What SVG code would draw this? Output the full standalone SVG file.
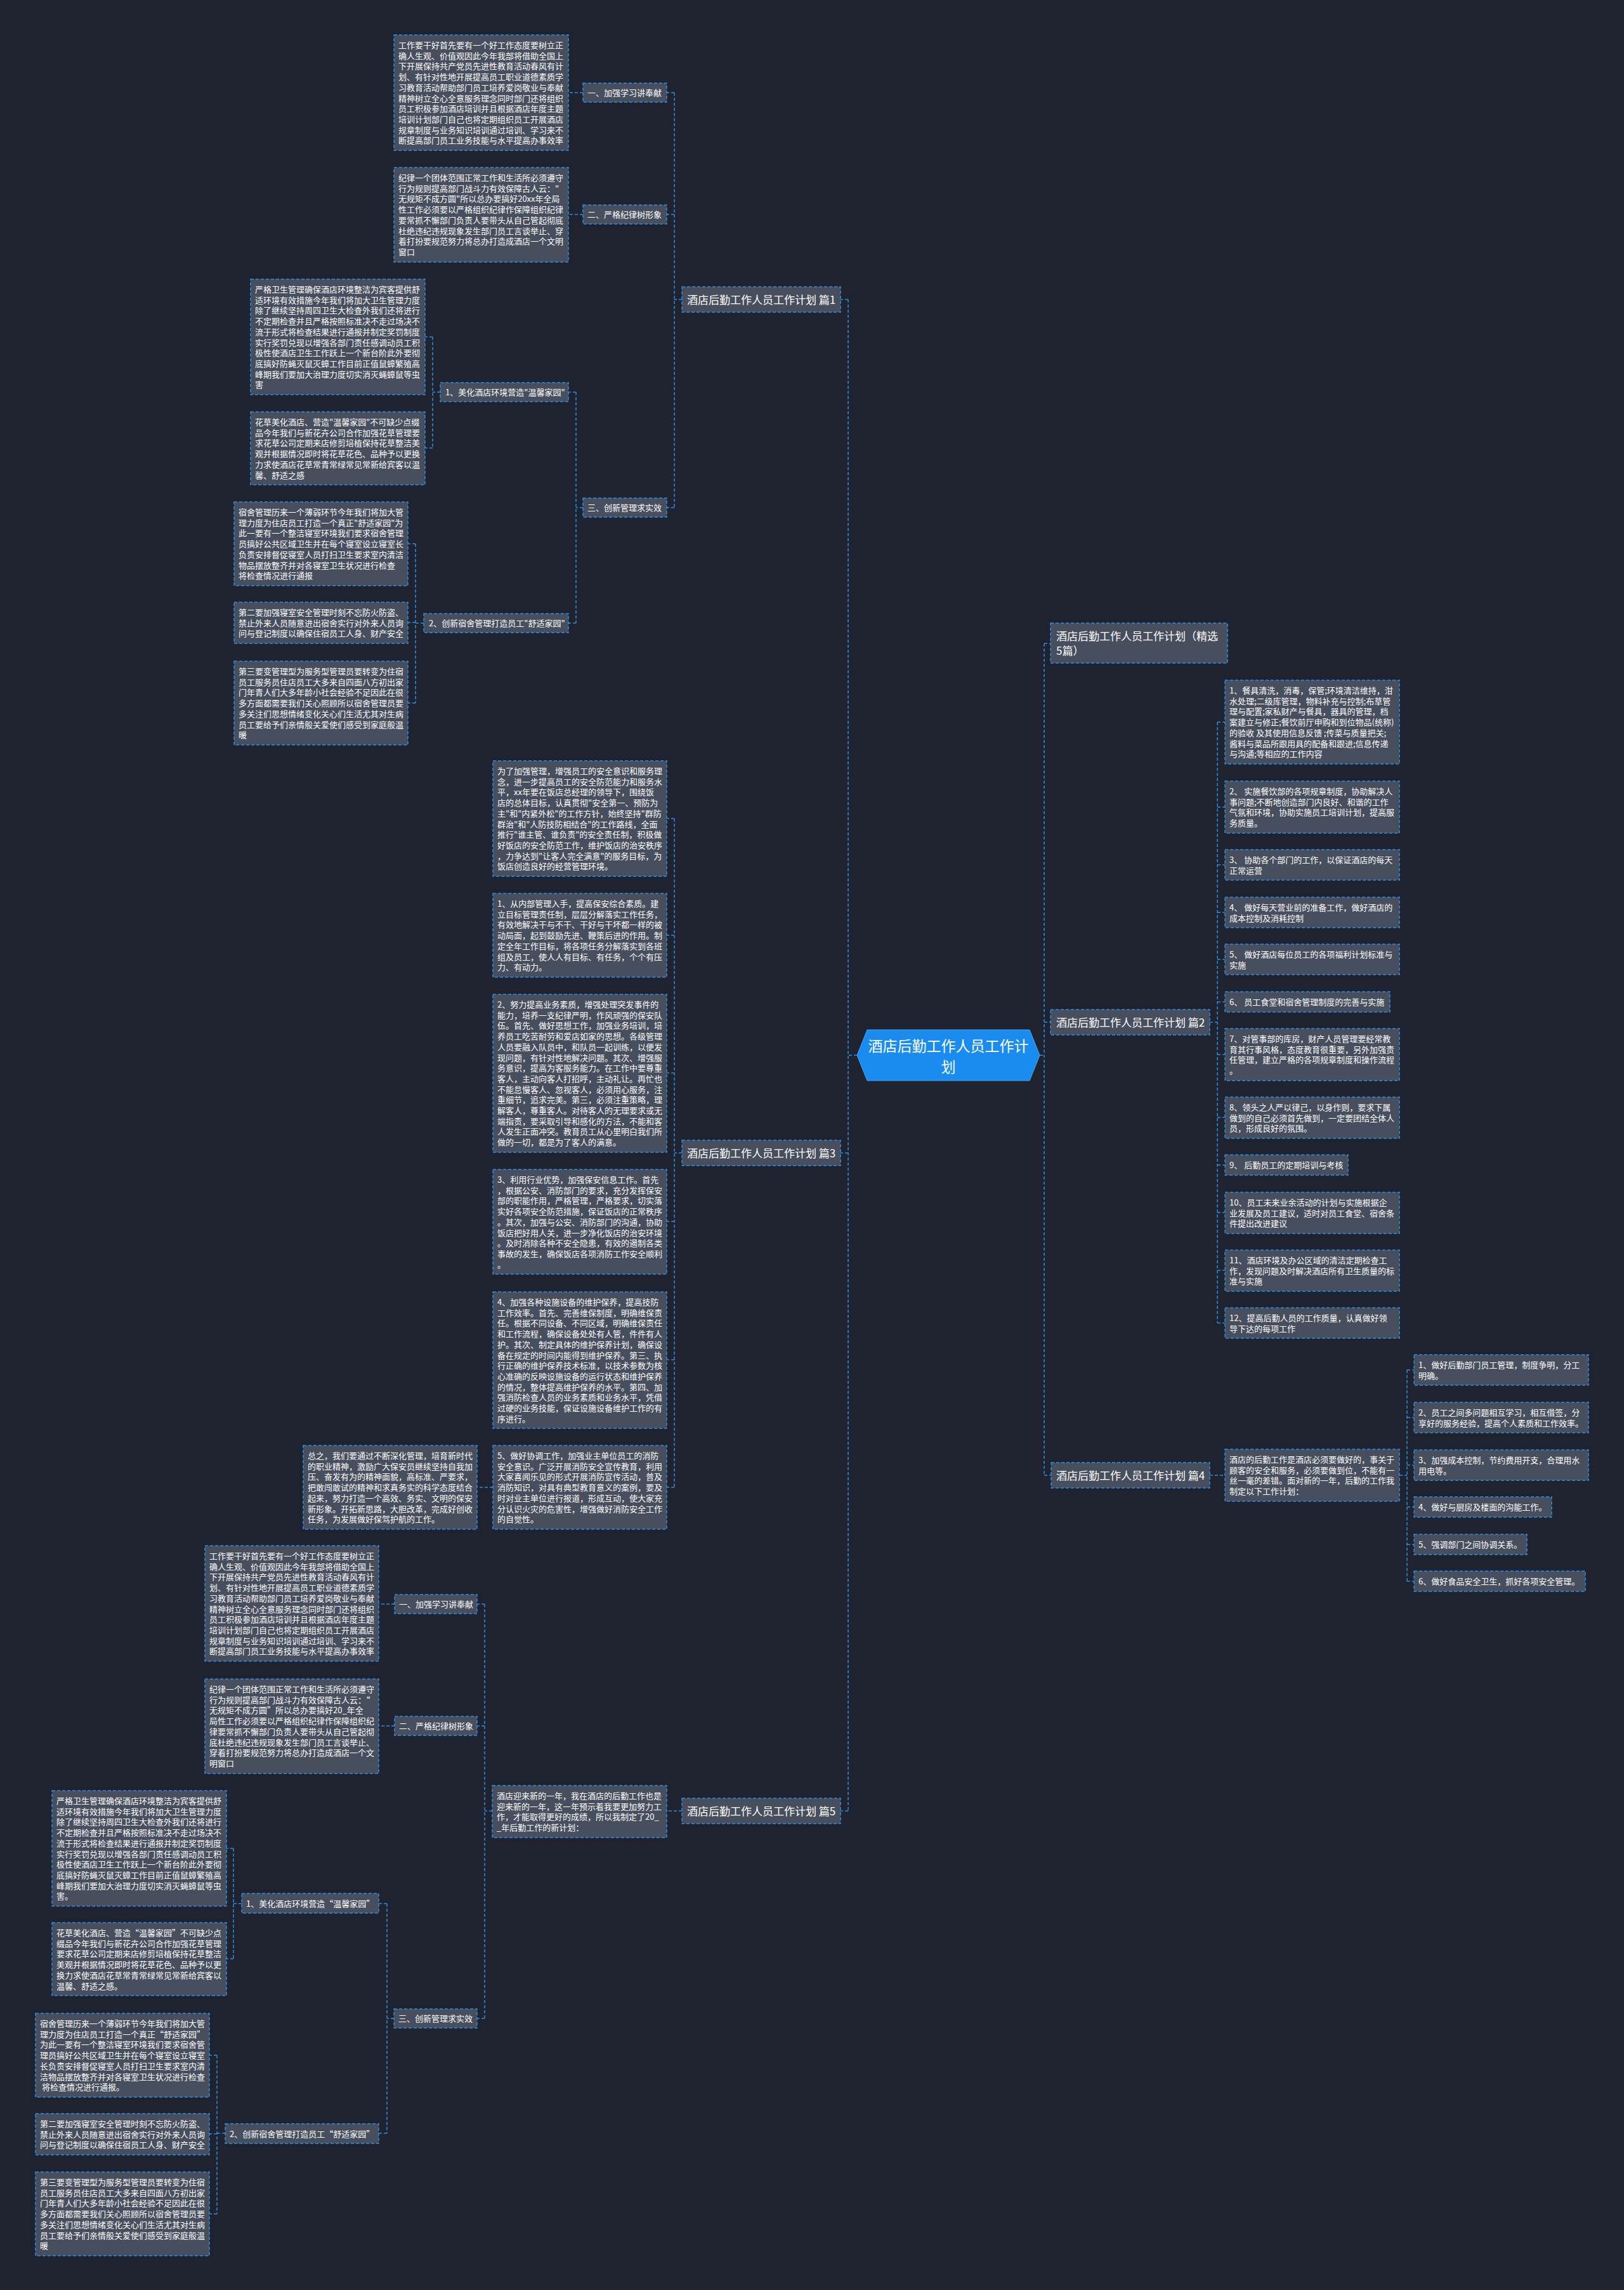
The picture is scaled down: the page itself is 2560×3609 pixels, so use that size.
<svg xmlns="http://www.w3.org/2000/svg" width="2560" height="3609" viewBox="0 0 2560 3609">
<style>
.n{fill:#474e5d;stroke:#2d8ce0;stroke-width:1.5;stroke-dasharray:5 3}
.t{fill:#ffffff;font-family:"Noto Sans CJK SC","Microsoft YaHei",sans-serif;font-size:13px}
.b{font-size:17px}
.rt{font-size:23px}
.c{fill:none;stroke:#2d8ce0;stroke-width:1.5;stroke-dasharray:5 3}
</style>
<rect width="2560" height="3609" fill="#1f232f"/>
<g id="connectors" class="c">
<path d="M1351 1663H1337M1337 472V2854M1337 472H1325M1337 1817H1325M1337 2854H1325"/>
<path d="M1639 1663H1646M1646 1014V2325M1646 1014H1656M1646 1611H1656M1646 2325H1657"/>
<path d="M1075 472H1063M1063 146V800M1063 146H1051M1063 338H1051M1063 800H1051M919 146H896M919 338H896"/>
<path d="M919 800H908M908 618V982M908 618H896M908 982H896"/>
<path d="M694 618H682M682 531V706M682 531H670M682 706H670"/>
<path d="M668 982H655M655 857V1108M655 857H643M655 981H643M655 1108H643"/>
<path d="M1075 1817H1063M1063 1290V2344M1063 1290H1051M1063 1474H1051M1063 1691H1051M1063 1925H1051M1063 2143H1051M1063 2344H1051M777 2344H752"/>
<path d="M1075 2854H1051M776 2854H764M764 2528V3181M764 2528H752M764 2720H752M764 3181H752M622 2528H597M622 2720H597"/>
<path d="M621 3181H610M610 3000V3362M610 3000H597M610 3362H597"/>
<path d="M381 3000H368M368 2913V3087M368 2913H357M368 3087H357"/>
<path d="M355 3362H342M342 3239V3489M342 3239H330M342 3363H330M342 3489H330"/>
<path d="M1907 1611H1919M1919 1138V2085M1919 1138H1931M1919 1272H1931M1919 1363H1931M1919 1438H1931M1919 1512H1931M1919 1579H1931M1919 1662H1931M1919 1761H1931M1919 1836H1931M1919 1911H1931M1919 2002H1931M1919 2085H1931"/>
<path d="M1907 2325H1931M2206 2325H2218M2218 2159V2492M2218 2159H2229M2218 2234H2229M2218 2309H2229M2218 2375H2229M2218 2434H2229M2218 2492H2229"/>
</g>

<g id="root"><polygon points="1351,1663 1367,1623 1623,1623 1639,1663 1623,1703 1367,1703" fill="#1a8cf0" stroke="#4aa6f5" stroke-width="1"/><text class="t rt" text-anchor="middle"><tspan x="1495" y="1657">酒店后勤工作人员工作计</tspan><tspan x="1495" y="1690">划</tspan></text></g>

<g id="n-jx"><rect class="n" x="1656" y="982" width="279" height="63"/><text class="t b"><tspan x="1665" y="1009">酒店后勤工作人员工作计划（精选</tspan><tspan x="1665" y="1031.5">5篇）</tspan></text></g>
<g id="n-p2"><rect class="n" x="1656" y="1591" width="251" height="40"/><text class="t b" x="1665" y="1617.5">酒店后勤工作人员工作计划 篇2</text></g>
<g id="n-p4"><rect class="n" x="1657" y="2305" width="250" height="40"/><text class="t b" x="1665" y="2331.5">酒店后勤工作人员工作计划 篇4</text></g>
<g id="n-p1"><rect class="n" x="1075" y="452" width="250" height="40"/><text class="t b" x="1083" y="478.5">酒店后勤工作人员工作计划 篇1</text></g>
<g id="n-p3"><rect class="n" x="1075" y="1797" width="250" height="40"/><text class="t b" x="1083" y="1823.5">酒店后勤工作人员工作计划 篇3</text></g>
<g id="n-p5"><rect class="n" x="1075" y="2834" width="250" height="40"/><text class="t b" x="1083" y="2860.5">酒店后勤工作人员工作计划 篇5</text></g>

<g id="n-r1"><rect class="n" x="1931" y="1072" width="275" height="132"/><text class="t"><tspan x="1938" y="1093">1、餐具清洗，消毒，保管;环境清洁维持，泔</tspan><tspan x="1938" dy="16.7">水处理;二级库管理，物料补充与控制;布草管</tspan><tspan x="1938" dy="16.7">理与配置;家私财产与餐具，器具的管理，档</tspan><tspan x="1938" dy="16.7">案建立与修正;餐饮前厅申购和到位物品(统称)</tspan><tspan x="1938" dy="16.7">的验收 及其使用信息反馈 ;传菜与质量把关;</tspan><tspan x="1938" dy="16.7">酱料与菜品所跟用具的配备和跟进;信息传递</tspan><tspan x="1938" dy="16.7">与沟通;等相应的工作内容</tspan></text></g>
<g id="n-r2"><rect class="n" x="1931" y="1231" width="275" height="82"/><text class="t"><tspan x="1938" y="1252">2、 实施餐饮部的各项规章制度，协助解决人</tspan><tspan x="1938" dy="16.7">事问题;不断地创造部门内良好、和谐的工作</tspan><tspan x="1938" dy="16.7">气氛和环境，协助实施员工培训计划，提高服</tspan><tspan x="1938" dy="16.7">务质量。</tspan></text></g>
<g id="n-r3"><rect class="n" x="1931" y="1339" width="275" height="48"/><text class="t"><tspan x="1938" y="1360">3、 协助各个部门的工作，以保证酒店的每天</tspan><tspan x="1938" dy="16.7">正常运营</tspan></text></g>
<g id="n-r4"><rect class="n" x="1931" y="1414" width="275" height="48"/><text class="t"><tspan x="1938" y="1435">4、 做好每天营业前的准备工作，做好酒店的</tspan><tspan x="1938" dy="16.7">成本控制及消耗控制</tspan></text></g>
<g id="n-r5"><rect class="n" x="1931" y="1488" width="275" height="48"/><text class="t"><tspan x="1938" y="1509">5、 做好酒店每位员工的各项福利计划标准与</tspan><tspan x="1938" dy="16.7">实施</tspan></text></g>
<g id="n-r6"><rect class="n" x="1931" y="1563" width="260" height="32"/><text class="t" x="1938" y="1584">6、 员工食堂和宿舍管理制度的完善与实施</text></g>
<g id="n-r7"><rect class="n" x="1931" y="1621" width="275" height="82"/><text class="t"><tspan x="1938" y="1642">7、对管事部的库房，财产人员管理要经常教</tspan><tspan x="1938" dy="16.7">育其行事风格，态度教育很重要，另外加强责</tspan><tspan x="1938" dy="16.7">任管理，建立严格的各项规章制度和操作流程</tspan><tspan x="1938" dy="16.7">。</tspan></text></g>
<g id="n-r8"><rect class="n" x="1931" y="1729" width="275" height="65"/><text class="t"><tspan x="1938" y="1750">8、领头之人严以律己，以身作则，要求下属</tspan><tspan x="1938" dy="16.7">做到的自己必须首先做到，一定要团结全体人</tspan><tspan x="1938" dy="16.7">员，形成良好的氛围。</tspan></text></g>
<g id="n-r9"><rect class="n" x="1931" y="1820" width="194" height="32"/><text class="t" x="1938" y="1841">9、 后勤员工的定期培训与考核</text></g>
<g id="n-r10"><rect class="n" x="1931" y="1879" width="275" height="65"/><text class="t"><tspan x="1938" y="1900">10、员工未来业余活动的计划与实施根据企</tspan><tspan x="1938" dy="16.7">业发展及员工建议，适时对员工食堂、宿舍条</tspan><tspan x="1938" dy="16.7">件提出改进建议</tspan></text></g>
<g id="n-r11"><rect class="n" x="1931" y="1970" width="275" height="65"/><text class="t"><tspan x="1938" y="1991">11、酒店环境及办公区域的清洁定期检查工</tspan><tspan x="1938" dy="16.7">作，发现问题及时解决酒店所有卫生质量的标</tspan><tspan x="1938" dy="16.7">准与实施</tspan></text></g>
<g id="n-r12"><rect class="n" x="1931" y="2061" width="275" height="48"/><text class="t"><tspan x="1938" y="2082">12、提高后勤人员的工作质量，认真做好领</tspan><tspan x="1938" dy="16.7">导下达的每项工作</tspan></text></g>

<g id="n-i4"><rect class="n" x="1931" y="2284" width="275" height="82"/><text class="t"><tspan x="1938" y="2305">酒店的后勤工作是酒店必须要做好的，事关于</tspan><tspan x="1938" dy="16.7">顾客的安全和服务，必须要做到位，不能有一</tspan><tspan x="1938" dy="16.7">丝一毫的差错。面对新的一年，后勤的工作我</tspan><tspan x="1938" dy="16.7">制定以下工作计划：</tspan></text></g>
<g id="n-s1"><rect class="n" x="2229" y="2135" width="275" height="48"/><text class="t"><tspan x="2236" y="2156">1、做好后勤部门员工管理，制度争明，分工</tspan><tspan x="2236" dy="16.7">明确。</tspan></text></g>
<g id="n-s2"><rect class="n" x="2229" y="2210" width="275" height="48"/><text class="t"><tspan x="2236" y="2231">2、员工之间多问题相互学习，相互借签，分</tspan><tspan x="2236" dy="16.7">享好的服务经验，提高个人素质和工作效率。</tspan></text></g>
<g id="n-s3"><rect class="n" x="2229" y="2285" width="275" height="48"/><text class="t"><tspan x="2236" y="2306">3、加强成本控制，节约费用开支，合理用水</tspan><tspan x="2236" dy="16.7">用电等。</tspan></text></g>
<g id="n-s4"><rect class="n" x="2229" y="2359" width="217" height="32"/><text class="t" x="2236" y="2380">4、做好与厨房及楼面的沟能工作。</text></g>
<g id="n-s5"><rect class="n" x="2229" y="2418" width="178" height="32"/><text class="t" x="2236" y="2439">5、强调部门之间协调关系。</text></g>
<g id="n-s6"><rect class="n" x="2229" y="2476" width="270" height="32"/><text class="t" x="2236" y="2497">6、做好食品安全卫生，抓好各项安全管理。</text></g>

<g id="n-l1"><rect class="n" x="919" y="131" width="132" height="30"/><text class="t" x="926" y="151">一、加强学习讲奉献</text></g>
<g id="n-a1"><rect class="n" x="621" y="55" width="275" height="182"/><text class="t"><tspan x="628" y="76">工作要干好首先要有一个好工作态度要树立正</tspan><tspan x="628" dy="16.7">确人生观、价值观因此今年我部将借助全国上</tspan><tspan x="628" dy="16.7">下开展保持共产党员先进性教育活动春风有计</tspan><tspan x="628" dy="16.7">划、有针对性地开展提高员工职业道德素质学</tspan><tspan x="628" dy="16.7">习教育活动帮助部门员工培养爱岗敬业与奉献</tspan><tspan x="628" dy="16.7">精神树立全心全意服务理念同时部门还将组织</tspan><tspan x="628" dy="16.7">员工积极参加酒店培训并且根据酒店年度主题</tspan><tspan x="628" dy="16.7">培训计划部门自己也将定期组织员工开展酒店</tspan><tspan x="628" dy="16.7">规章制度与业务知识培训通过培训、学习来不</tspan><tspan x="628" dy="16.7">断提高部门员工业务技能与水平提高办事效率</tspan></text></g>
<g id="n-l2"><rect class="n" x="919" y="323" width="132" height="30"/><text class="t" x="926" y="343">二、严格纪律树形象</text></g>
<g id="n-a2"><rect class="n" x="621" y="264" width="275" height="149"/><text class="t"><tspan x="628" y="285">纪律一个团体范围正常工作和生活所必须遵守</tspan><tspan x="628" dy="16.7">行为规则提高部门战斗力有效保障古人云："</tspan><tspan x="628" dy="16.7">无规矩不成方圆"所以总办要搞好20xx年全局</tspan><tspan x="628" dy="16.7">性工作必须要以严格组织纪律作保障组织纪律</tspan><tspan x="628" dy="16.7">要常抓不懈部门负责人要带头从自己管起彻底</tspan><tspan x="628" dy="16.7">杜绝违纪违规现象发生部门员工言谈举止、穿</tspan><tspan x="628" dy="16.7">着打扮要规范努力将总办打造成酒店一个文明</tspan><tspan x="628" dy="16.7">窗口</tspan></text></g>
<g id="n-l3"><rect class="n" x="919" y="785" width="132" height="30"/><text class="t" x="926" y="805">三、创新管理求实效</text></g>
<g id="n-lb1"><rect class="n" x="694" y="603" width="202" height="30"/><text class="t" x="702" y="623">1、美化酒店环境营造"温馨家园"</text></g>
<g id="n-b1"><rect class="n" x="395" y="440" width="275" height="182"/><text class="t"><tspan x="402" y="461">严格卫生管理确保酒店环境整洁为宾客提供舒</tspan><tspan x="402" dy="16.7">适环境有效措施今年我们将加大卫生管理力度</tspan><tspan x="402" dy="16.7">除了继续坚持周四卫生大检查外我们还将进行</tspan><tspan x="402" dy="16.7">不定期检查并且严格按照标准决不走过场决不</tspan><tspan x="402" dy="16.7">流于形式将检查结果进行通报并制定奖罚制度</tspan><tspan x="402" dy="16.7">实行奖罚兑现以增强各部门责任感调动员工积</tspan><tspan x="402" dy="16.7">极性使酒店卫生工作跃上一个新台阶此外要彻</tspan><tspan x="402" dy="16.7">底搞好防蝇灭鼠灭蟑工作目前正值鼠蟑繁殖高</tspan><tspan x="402" dy="16.7">峰期我们要加大治理力度切实消灭蝇蟑鼠等虫</tspan><tspan x="402" dy="16.7">害</tspan></text></g>
<g id="n-b2"><rect class="n" x="395" y="649" width="275" height="115"/><text class="t"><tspan x="402" y="670">花草美化酒店、营造"温馨家园"不可缺少点缀</tspan><tspan x="402" dy="16.7">品今年我们与新花卉公司合作加强花草管理要</tspan><tspan x="402" dy="16.7">求花草公司定期来店修剪培植保持花草整洁美</tspan><tspan x="402" dy="16.7">观并根据情况即时将花草花色、品种予以更换</tspan><tspan x="402" dy="16.7">力求使酒店花草常青常绿常见常新给宾客以温</tspan><tspan x="402" dy="16.7">馨、舒适之感</tspan></text></g>
<g id="n-lb2"><rect class="n" x="668" y="967" width="228" height="30"/><text class="t" x="676" y="987">2、创新宿舍管理打造员工"舒适家园"</text></g>
<g id="n-c1"><rect class="n" x="369" y="791" width="274" height="132"/><text class="t"><tspan x="376" y="812">宿舍管理历来一个薄弱环节今年我们将加大管</tspan><tspan x="376" dy="16.7">理力度为住店员工打造一个真正"舒适家园"为</tspan><tspan x="376" dy="16.7">此一要有一个整洁寝室环境我们要求宿舍管理</tspan><tspan x="376" dy="16.7">员搞好公共区域卫生并在每个寝室设立寝室长</tspan><tspan x="376" dy="16.7">负责安排督促寝室人员打扫卫生要求室内清洁</tspan><tspan x="376" dy="16.7">物品摆放整齐并对各寝室卫生状况进行检查</tspan><tspan x="376" dy="16.7">将检查情况进行通报</tspan></text></g>
<g id="n-c2"><rect class="n" x="369" y="949" width="274" height="65"/><text class="t"><tspan x="376" y="970">第二要加强寝室安全管理时刻不忘防火防盗、</tspan><tspan x="376" dy="16.7">禁止外来人员随意进出宿舍实行对外来人员询</tspan><tspan x="376" dy="16.7">问与登记制度以确保住宿员工人身、财产安全</tspan></text></g>
<g id="n-c3"><rect class="n" x="369" y="1042" width="274" height="132"/><text class="t"><tspan x="376" y="1063">第三要变管理型为服务型管理员要转变为住宿</tspan><tspan x="376" dy="16.7">员工服务员住店员工大多来自四面八方初出家</tspan><tspan x="376" dy="16.7">门年青人们大多年龄小社会经验不足因此在很</tspan><tspan x="376" dy="16.7">多方面都需要我们关心照顾所以宿舍管理员要</tspan><tspan x="376" dy="16.7">多关注们思想情绪变化关心们生活尤其对生病</tspan><tspan x="376" dy="16.7">员工要给予们亲情般关爱使们感受到家庭般温</tspan><tspan x="376" dy="16.7">暖</tspan></text></g>

<g id="n-p3-0"><rect class="n" x="777" y="1199" width="274" height="182"/><text class="t"><tspan x="784" y="1220">为了加强管理，增强员工的安全意识和服务理</tspan><tspan x="784" dy="16.7">念，进一步提高员工的安全防范能力和服务水</tspan><tspan x="784" dy="16.7">平，xx年要在饭店总经理的领导下，围绕饭</tspan><tspan x="784" dy="16.7">店的总体目标，认真贯彻"安全第一、预防为</tspan><tspan x="784" dy="16.7">主"和"内紧外松"的工作方针，始终坚持"群防</tspan><tspan x="784" dy="16.7">群治"和"人防技防相结合"的工作路线，全面</tspan><tspan x="784" dy="16.7">推行"谁主管、谁负责"的安全责任制，积极做</tspan><tspan x="784" dy="16.7">好饭店的安全防范工作，维护饭店的治安秩序</tspan><tspan x="784" dy="16.7">，力争达到"让客人完全满意"的服务目标，为</tspan><tspan x="784" dy="16.7">饭店创造良好的经营管理环境。</tspan></text></g>
<g id="n-p3-1"><rect class="n" x="777" y="1408" width="274" height="132"/><text class="t"><tspan x="784" y="1429">1、从内部管理入手，提高保安综合素质。建</tspan><tspan x="784" dy="16.7">立目标管理责任制，层层分解落实工作任务，</tspan><tspan x="784" dy="16.7">有效地解决干与不干、干好与干坏都一样的被</tspan><tspan x="784" dy="16.7">动局面，起到鼓励先进、鞭策后进的作用。制</tspan><tspan x="784" dy="16.7">定全年工作目标，将各项任务分解落实到各班</tspan><tspan x="784" dy="16.7">组及员工，使人人有目标、有任务，个个有压</tspan><tspan x="784" dy="16.7">力、有动力。</tspan></text></g>
<g id="n-p3-2"><rect class="n" x="777" y="1567" width="274" height="249"/><text class="t"><tspan x="784" y="1588">2、努力提高业务素质，增强处理突发事件的</tspan><tspan x="784" dy="16.7">能力，培养一支纪律严明，作风顽强的保安队</tspan><tspan x="784" dy="16.7">伍。首先、做好思想工作，加强业务培训，培</tspan><tspan x="784" dy="16.7">养员工吃苦耐劳和爱店如家的思想。各级管理</tspan><tspan x="784" dy="16.7">人员要融入队员中，和队员一起训练，以便发</tspan><tspan x="784" dy="16.7">现问题，有针对性地解决问题。其次、增强服</tspan><tspan x="784" dy="16.7">务意识，提高为客服务能力。在工作中要尊重</tspan><tspan x="784" dy="16.7">客人，主动向客人打招呼，主动礼让。再忙也</tspan><tspan x="784" dy="16.7">不能怠慢客人、忽视客人，必须用心服务，注</tspan><tspan x="784" dy="16.7">重细节，追求完美。第三，必须注重策略，理</tspan><tspan x="784" dy="16.7">解客人，尊重客人。对待客人的无理要求或无</tspan><tspan x="784" dy="16.7">端指责，要采取引导和感化的方法，不能和客</tspan><tspan x="784" dy="16.7">人发生正面冲突。教育员工从心里明白我们所</tspan><tspan x="784" dy="16.7">做的一切，都是为了客人的满意。</tspan></text></g>
<g id="n-p3-3"><rect class="n" x="777" y="1843" width="274" height="165"/><text class="t"><tspan x="784" y="1864">3、利用行业优势，加强保安信息工作。首先</tspan><tspan x="784" dy="16.7">，根据公安、消防部门的要求，充分发挥保安</tspan><tspan x="784" dy="16.7">部的职能作用，严格管理，严格要求，切实落</tspan><tspan x="784" dy="16.7">实好各项安全防范措施，保证饭店的正常秩序</tspan><tspan x="784" dy="16.7">。其次，加强与公安、消防部门的沟通，协助</tspan><tspan x="784" dy="16.7">饭店把好用人关，进一步净化饭店的治安环境</tspan><tspan x="784" dy="16.7">。及时消除各种不安全隐患，有效的遏制各类</tspan><tspan x="784" dy="16.7">事故的发生，确保饭店各项消防工作安全顺利</tspan><tspan x="784" dy="16.7">。</tspan></text></g>
<g id="n-p3-4"><rect class="n" x="777" y="2036" width="274" height="215"/><text class="t"><tspan x="784" y="2057">4、加强各种设施设备的维护保养，提高技防</tspan><tspan x="784" dy="16.7">工作效率。首先、完善维保制度，明确维保责</tspan><tspan x="784" dy="16.7">任。根据不同设备、不同区域，明确维保责任</tspan><tspan x="784" dy="16.7">和工作流程，确保设备处处有人管，件件有人</tspan><tspan x="784" dy="16.7">护。其次、制定具体的维护保养计划，确保设</tspan><tspan x="784" dy="16.7">备在规定的时间内能得到维护保养。第三、执</tspan><tspan x="784" dy="16.7">行正确的维护保养技术标准，以技术参数为核</tspan><tspan x="784" dy="16.7">心准确的反映设施设备的运行状态和维护保养</tspan><tspan x="784" dy="16.7">的情况，整体提高维护保养的水平。第四、加</tspan><tspan x="784" dy="16.7">强消防检查人员的业务素质和业务水平，凭借</tspan><tspan x="784" dy="16.7">过硬的业务技能，保证设施设备维护工作的有</tspan><tspan x="784" dy="16.7">序进行。</tspan></text></g>
<g id="n-p3-5"><rect class="n" x="777" y="2278" width="274" height="132"/><text class="t"><tspan x="784" y="2299">5、做好协调工作，加强业主单位员工的消防</tspan><tspan x="784" dy="16.7">安全意识。广泛开展消防安全宣传教育，利用</tspan><tspan x="784" dy="16.7">大家喜闻乐见的形式开展消防宣传活动，普及</tspan><tspan x="784" dy="16.7">消防知识，对具有典型教育意义的案例，要及</tspan><tspan x="784" dy="16.7">时对业主单位进行报道，形成互动，使大家充</tspan><tspan x="784" dy="16.7">分认识火灾的危害性，增强做好消防安全工作</tspan><tspan x="784" dy="16.7">的自觉性。</tspan></text></g>
<g id="n-p3-6"><rect class="n" x="478" y="2278" width="274" height="132"/><text class="t"><tspan x="485" y="2299">总之，我们要通过不断深化管理，培育新时代</tspan><tspan x="485" dy="16.7">的职业精神，激励广大保安员继续坚持自我加</tspan><tspan x="485" dy="16.7">压、奋发有为的精神面貌，高标准、严要求，</tspan><tspan x="485" dy="16.7">把敢闯敢试的精神和求真务实的科学态度结合</tspan><tspan x="485" dy="16.7">起来，努力打造一个高效、务实、文明的保安</tspan><tspan x="485" dy="16.7">新形象。开拓新思路，大胆改革，完成好创收</tspan><tspan x="485" dy="16.7">任务，为发展做好保驾护航的工作。</tspan></text></g>

<g id="n-q0"><rect class="n" x="776" y="2814" width="275" height="82"/><text class="t"><tspan x="783" y="2835">酒店迎来新的一年，我在酒店的后勤工作也是</tspan><tspan x="783" dy="16.7">迎来新的一年，这一年预示着我要更加努力工</tspan><tspan x="783" dy="16.7">作，才能取得更好的成绩，所以我制定了20_</tspan><tspan x="783" dy="16.7">_年后勤工作的新计划：</tspan></text></g>
<g id="n-ql1"><rect class="n" x="622" y="2513" width="130" height="30"/><text class="t" x="629" y="2533">一、加强学习讲奉献</text></g>
<g id="n-q1"><rect class="n" x="323" y="2436" width="274" height="182"/><text class="t"><tspan x="330" y="2457">工作要干好首先要有一个好工作态度要树立正</tspan><tspan x="330" dy="16.7">确人生观、价值观因此今年我部将借助全国上</tspan><tspan x="330" dy="16.7">下开展保持共产党员先进性教育活动春风有计</tspan><tspan x="330" dy="16.7">划、有针对性地开展提高员工职业道德素质学</tspan><tspan x="330" dy="16.7">习教育活动帮助部门员工培养爱岗敬业与奉献</tspan><tspan x="330" dy="16.7">精神树立全心全意服务理念同时部门还将组织</tspan><tspan x="330" dy="16.7">员工积极参加酒店培训并且根据酒店年度主题</tspan><tspan x="330" dy="16.7">培训计划部门自己也将定期组织员工开展酒店</tspan><tspan x="330" dy="16.7">规章制度与业务知识培训通过培训、学习来不</tspan><tspan x="330" dy="16.7">断提高部门员工业务技能与水平提高办事效率</tspan></text></g>
<g id="n-ql2"><rect class="n" x="622" y="2705" width="130" height="30"/><text class="t" x="629" y="2725">二、严格纪律树形象</text></g>
<g id="n-q2"><rect class="n" x="323" y="2646" width="274" height="149"/><text class="t"><tspan x="330" y="2667">纪律一个团体范围正常工作和生活所必须遵守</tspan><tspan x="330" dy="16.7">行为规则提高部门战斗力有效保障古人云：“</tspan><tspan x="330" dy="16.7">无规矩不成方圆”所以总办要搞好20_年全</tspan><tspan x="330" dy="16.7">局性工作必须要以严格组织纪律作保障组织纪</tspan><tspan x="330" dy="16.7">律要常抓不懈部门负责人要带头从自己管起彻</tspan><tspan x="330" dy="16.7">底杜绝违纪违规现象发生部门员工言谈举止、</tspan><tspan x="330" dy="16.7">穿着打扮要规范努力将总办打造成酒店一个文</tspan><tspan x="330" dy="16.7">明窗口</tspan></text></g>
<g id="n-ql3"><rect class="n" x="621" y="3166" width="131" height="30"/><text class="t" x="628" y="3186">三、创新管理求实效</text></g>
<g id="n-qb1"><rect class="n" x="381" y="2984" width="216" height="31"/><text class="t" x="388" y="3005">1、美化酒店环境营造“温馨家园”</text></g>
<g id="n-q3"><rect class="n" x="82" y="2822" width="275" height="182"/><text class="t"><tspan x="89" y="2843">严格卫生管理确保酒店环境整洁为宾客提供舒</tspan><tspan x="89" dy="16.7">适环境有效措施今年我们将加大卫生管理力度</tspan><tspan x="89" dy="16.7">除了继续坚持周四卫生大检查外我们还将进行</tspan><tspan x="89" dy="16.7">不定期检查并且严格按照标准决不走过场决不</tspan><tspan x="89" dy="16.7">流于形式将检查结果进行通报并制定奖罚制度</tspan><tspan x="89" dy="16.7">实行奖罚兑现以增强各部门责任感调动员工积</tspan><tspan x="89" dy="16.7">极性使酒店卫生工作跃上一个新台阶此外要彻</tspan><tspan x="89" dy="16.7">底搞好防蝇灭鼠灭蟑工作目前正值鼠蟑繁殖高</tspan><tspan x="89" dy="16.7">峰期我们要加大治理力度切实消灭蝇蟑鼠等虫</tspan><tspan x="89" dy="16.7">害。</tspan></text></g>
<g id="n-q4"><rect class="n" x="82" y="3030" width="275" height="115"/><text class="t"><tspan x="89" y="3051">花草美化酒店、营造“温馨家园”不可缺少点</tspan><tspan x="89" dy="16.7">缀品今年我们与新花卉公司合作加强花草管理</tspan><tspan x="89" dy="16.7">要求花草公司定期来店修剪培植保持花草整洁</tspan><tspan x="89" dy="16.7">美观并根据情况即时将花草花色、品种予以更</tspan><tspan x="89" dy="16.7">换力求使酒店花草常青常绿常见常新给宾客以</tspan><tspan x="89" dy="16.7">温馨、舒适之感。</tspan></text></g>
<g id="n-qb2"><rect class="n" x="355" y="3347" width="242" height="31"/><text class="t" x="362" y="3368">2、创新宿舍管理打造员工“舒适家园”</text></g>
<g id="n-q5"><rect class="n" x="56" y="3173" width="274" height="132"/><text class="t"><tspan x="63" y="3194">宿舍管理历来一个薄弱环节今年我们将加大管</tspan><tspan x="63" dy="16.7">理力度为住店员工打造一个真正“舒适家园”</tspan><tspan x="63" dy="16.7">为此一要有一个整洁寝室环境我们要求宿舍管</tspan><tspan x="63" dy="16.7">理员搞好公共区域卫生并在每个寝室设立寝室</tspan><tspan x="63" dy="16.7">长负责安排督促寝室人员打扫卫生要求室内清</tspan><tspan x="63" dy="16.7">洁物品摆放整齐并对各寝室卫生状况进行检查</tspan><tspan x="63" dy="16.7"> 将检查情况进行通报。</tspan></text></g>
<g id="n-q6"><rect class="n" x="56" y="3331" width="274" height="65"/><text class="t"><tspan x="63" y="3352">第二要加强寝室安全管理时刻不忘防火防盗、</tspan><tspan x="63" dy="16.7">禁止外来人员随意进出宿舍实行对外来人员询</tspan><tspan x="63" dy="16.7">问与登记制度以确保住宿员工人身、财产安全</tspan></text></g>
<g id="n-q7"><rect class="n" x="56" y="3423" width="274" height="132"/><text class="t"><tspan x="63" y="3444">第三要变管理型为服务型管理员要转变为住宿</tspan><tspan x="63" dy="16.7">员工服务员住店员工大多来自四面八方初出家</tspan><tspan x="63" dy="16.7">门年青人们大多年龄小社会经验不足因此在很</tspan><tspan x="63" dy="16.7">多方面都需要我们关心照顾所以宿舍管理员要</tspan><tspan x="63" dy="16.7">多关注们思想情绪变化关心们生活尤其对生病</tspan><tspan x="63" dy="16.7">员工要给予们亲情般关爱使们感受到家庭般温</tspan><tspan x="63" dy="16.7">暖</tspan></text></g>
</svg>
